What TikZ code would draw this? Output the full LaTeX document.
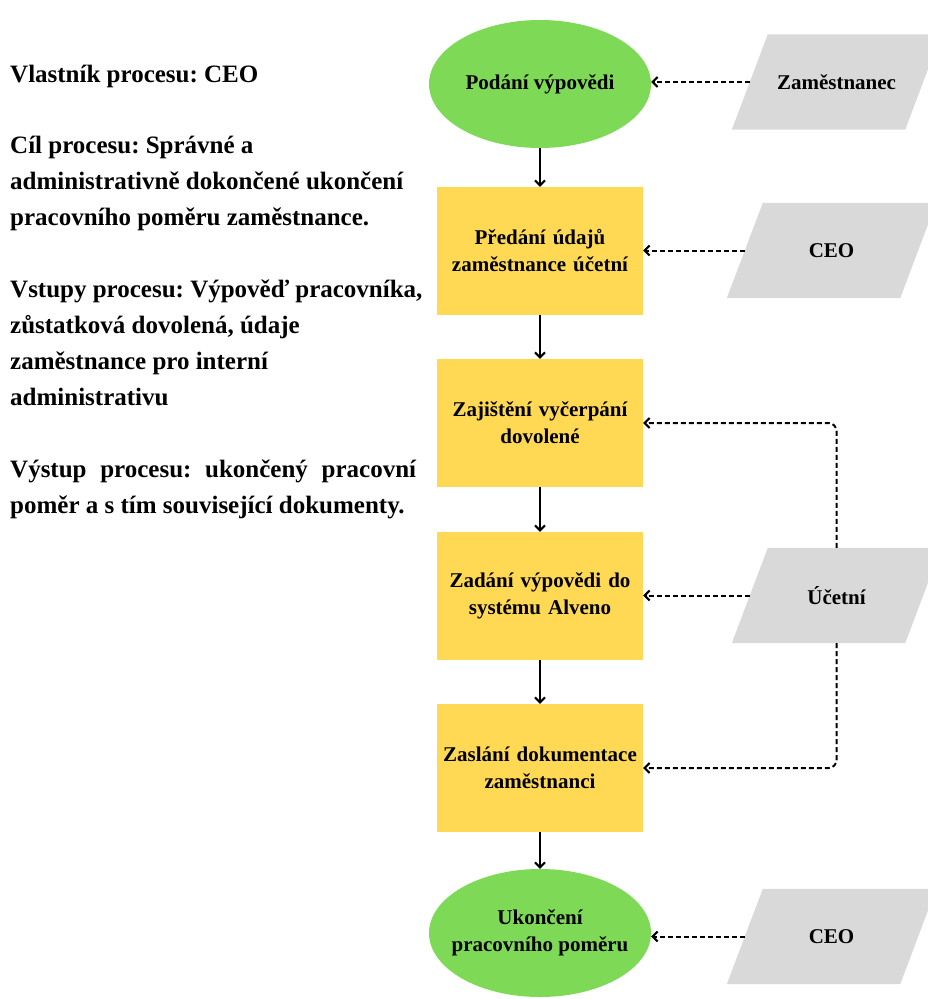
\documentclass[tikz,border=0pt]{standalone}
\usepackage{fontspec}
\setmainfont{Liberation Serif}
\usetikzlibrary{shapes.geometric,arrows.meta,calc,backgrounds}
\definecolor{startgreen}{RGB}{126,217,87}
\definecolor{stepyellow}{RGB}{255,217,84}
\definecolor{rolegray}{RGB}{217,217,217}
\frenchspacing

\begin{document}
\begin{tikzpicture}[x=1pt,y=-1pt,
  infoline/.style={anchor=base west, inner sep=0pt, font=\fontsize{25}{36}\selectfont\bfseries},
  terminal/.style={ellipse, fill=startgreen, minimum width=222pt, minimum height=128pt, inner sep=0pt},
  termtext/.style={align=center, inner sep=0pt, font=\fontsize{21}{27}\selectfont\bfseries},
  stepbox/.style={rectangle, fill=stepyellow, minimum width=206pt, minimum height=128pt,
    text width=200pt, inner sep=3pt, align=center, font=\fontsize{21}{27}\selectfont\bfseries},
  role/.style={rectangle, minimum width=173pt, minimum height=95pt,
    inner sep=0pt, font=\fontsize{21}{27}\selectfont\bfseries},
  flow/.style={-{Straight Barb[length=5pt,width=10pt]}, line width=2pt},
  feed/.style={-{Straight Barb[length=5pt,width=10pt]}, line width=2pt, dash pattern=on 5pt off 3pt},
]
\useasboundingbox (0,0) rectangle (928,999);

% process description
\node[infoline] (owner)  at (10,82)  {Vlastník procesu: CEO};
\node[infoline] (goalA)  at (10,153) {Cíl procesu: Správné a};
\node[infoline] (goalB)  at (10,189) {administrativně dokončené ukončení};
\node[infoline] (goalC)  at (10,225) {pracovního poměru zaměstnance.};
\node[infoline] (inA)    at (10,297) {Vstupy procesu: Výpověď pracovníka,};
\node[infoline] (inB)    at (10,333) {zůstatková dovolená, údaje};
\node[infoline] (inC)    at (10,369) {zaměstnance pro interní};
\node[infoline] (inD)    at (10,405) {administrativu};
\node[infoline] (outA)   at (10,477) {\makebox[406pt][s]{Výstup procesu: ukončený pracovní}};
\node[infoline] (outB)   at (10,513) {poměr a s tím související dokumenty.};

% main flow
\node[terminal] (start) at (540,84) {};
\node[termtext] (startT) at (start.center) {Podání výpovědi};
\node[stepbox] (r1) at (540,251) {Předání údajů\\zaměstnance účetní};
\node[stepbox] (r2) at (540,423) {Zajištění vyčerpání\\dovolené};
\node[stepbox] (r3) at (540,596) {Zadání výpovědi do\\systému Alveno};
\node[stepbox] (r4) at (540,768) {Zaslání dokumentace\\zaměstnanci};
\node[terminal] (stop) at (540,933) {};
\node[termtext] (stopT) at (stop.center) {Ukončení\\pracovního poměru};

% roles (parallelograms filled behind the labels)
\node[role] (emp)  at (836.5,82)    {Zaměstnanec};
\node[role] (ceoA) at (831.5,250.5) {CEO};
\node[role] (acc)  at (836.5,595.5) {Účetní};
\node[role] (ceoB) at (831.5,936.5) {CEO};
\begin{scope}[on background layer]
  \foreach \r in {emp,ceoA,acc,ceoB}
    \fill[rolegray] ($(\r.south west)+(-18,0)$) -- ($(\r.south east)+(-18,0)$)
      -- ($(\r.north east)+(18,0)$) -- ($(\r.north west)+(18,0)$) -- cycle;
\end{scope}

% connectors
\draw[flow] (start.south) -- (r1.north);
\draw[flow] (r1.south) -- (r2.north);
\draw[flow] (r2.south) -- (r3.north);
\draw[flow] (r3.south) -- (r4.north);
\draw[flow] (r4.south) -- (stop.north);

\draw[feed] (emp.west) -- (emp.west -| start.east);
\draw[feed] (ceoA.west) -- (ceoA.west -| r1.east);
\draw[feed] (acc.west) -- (acc.west -| r3.east);
\draw[feed] (ceoB.west) -- (ceoB.west -| stop.east);
\draw[feed, rounded corners=8pt] (acc.north) |- (r2.east);
\draw[feed, rounded corners=8pt] (acc.south) |- (r4.east);
\end{tikzpicture}
\end{document}
